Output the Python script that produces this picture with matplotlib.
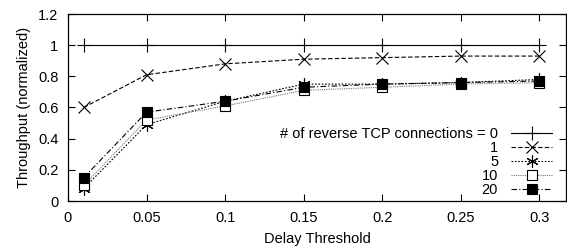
import matplotlib
matplotlib.use("Agg")
import matplotlib.pyplot as plt

x = [0.01, 0.05, 0.1, 0.15, 0.2, 0.25, 0.3]
s0 = [1.0, 1.0, 1.0, 1.0, 1.0, 1.0, 1.0]
s1 = [0.60, 0.81, 0.88, 0.91, 0.92, 0.93, 0.93]
s5 = [0.08, 0.49, 0.64, 0.75, 0.75, 0.76, 0.78]
s10 = [0.10, 0.52, 0.61, 0.71, 0.73, 0.75, 0.76]
s20 = [0.15, 0.57, 0.64, 0.73, 0.75, 0.76, 0.77]
labels = ["# of reverse TCP connections = 0", "1", "5", "10", "20"]
xticks = [0, 0.05, 0.1, 0.15, 0.2, 0.25, 0.3]
yticks = [0, 0.2, 0.4, 0.6, 0.8, 1, 1.2]

plt.rcParams['font.family'] = ['Liberation Sans', 'DejaVu Sans']
fs = 10.5
fig = plt.figure(figsize=(5.67, 2.49), dpi=100)
ax = fig.add_axes([68/567, 1-201/249, (566-68)/567, (201-14)/249])

lw = 0.8
ax.plot(x, s0, color='black', lw=lw, ls='-', marker='+', ms=10, mew=0.8, label=labels[0])
ax.plot(x, s1, color='black', lw=lw, ls=(0, (4, 2)), marker='x', ms=8, mew=0.8, label=labels[1])
ax.plot(x, s5, color='black', lw=lw, ls=(0, (1.5, 1.5)), marker=(6, 2, 0), ms=9, mew=0.8, label=labels[2])
ax.plot(x, s10, color='#777777', lw=lw, ls=(0, (1, 1)), marker='s', ms=6.5, mew=0.8,
        mfc='white', mec='black', label=labels[3])
ax.plot(x, s20, color='black', lw=lw, ls=(0, (5, 2, 1, 2)), marker='s', ms=7.5, mew=0.8,
        mfc='black', mec='black', label=labels[4])

ax.set_xlim(0, 0.317)
ax.set_ylim(0, 1.2)
ax.set_xticks(xticks)
ax.set_xticklabels(["0", "0.05", "0.1", "0.15", "0.2", "0.25", "0.3"])
ax.set_yticks(yticks)
ax.set_yticklabels(["0", "0.2", "0.4", "0.6", "0.8", "1", "1.2"])
ax.tick_params(direction='in', length=5, width=0.8, labelsize=fs, top=True, right=True)
ax.tick_params(axis='y', pad=7)
ax.tick_params(axis='x', pad=7)
for sp in ax.spines.values():
    sp.set_linewidth(0.9)
ax.set_xlabel("Delay Threshold", fontsize=fs, labelpad=5)
ax.set_ylabel("Throughput (normalized)", fontsize=fs, labelpad=5)

leg = ax.legend(loc='lower right', bbox_to_anchor=(0.972, 0.02), frameon=False, markerfirst=False,
                fontsize=fs, handlelength=2.8, handletextpad=0.9, labelspacing=0.0,
                borderpad=0.0, borderaxespad=0)

fig.savefig("out.png", dpi=100)
